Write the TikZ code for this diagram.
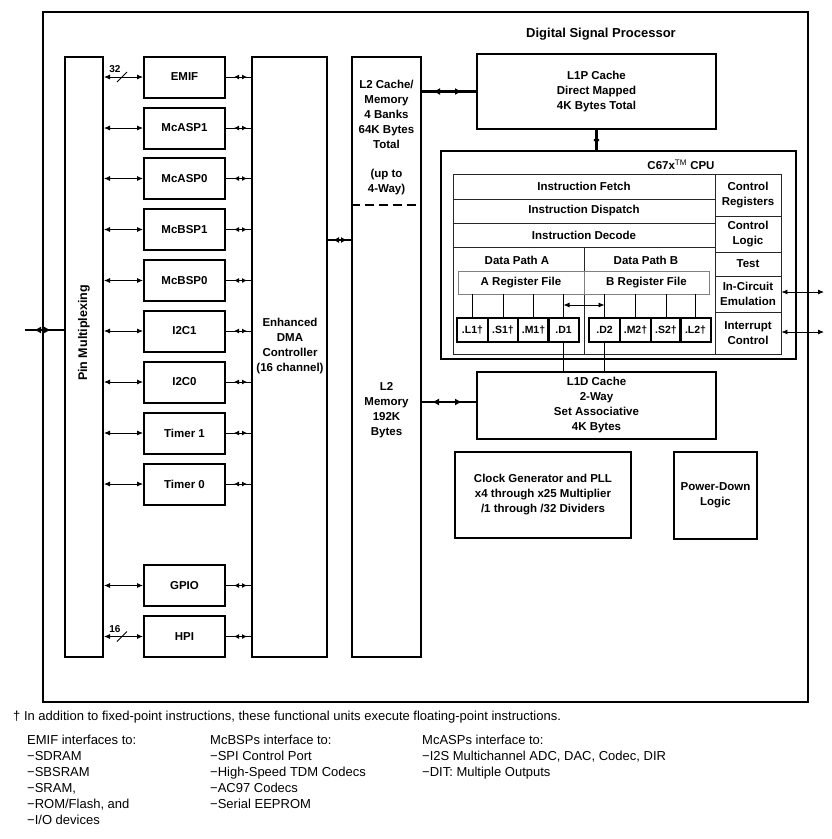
\documentclass[tikz,border=0pt]{standalone}
\usepackage{fontspec}
\setmainfont{Liberation Sans}
\usetikzlibrary{arrows.meta,decorations.markings}
\tikzset{
  blk/.style={draw, line width=2pt, inner sep=0pt, align=center, font=\bfseries\fontsize{11.5}{15}\selectfont},
  cell/.style={draw=black!85, line width=0.9pt, inner sep=0pt, align=center, font=\bfseries\fontsize{11.5}{15}\selectfont},
  regf/.style={draw=black!50, line width=0.9pt, inner sep=0pt, minimum height=23pt, font=\bfseries\fontsize{11.5}{14}\selectfont},
  fu/.style={draw, line width=2.2pt, inner sep=0pt, minimum width=30.5pt, minimum height=24pt, font=\bfseries\fontsize{10.5}{12}\selectfont},
  periph/.style={blk, minimum width=81pt, minimum height=41pt},
  lbl/.style={inner sep=0pt, align=center, font=\bfseries\fontsize{11.5}{15}\selectfont},
  sig/.style={line width=0.8pt, {Latex[length=6pt,width=5pt]}-{Latex[length=6pt,width=5pt]}},
  thinln/.style={line width=0.8pt},
  inarr/.style n args={4}{line width=#1, postaction={decorate}, decoration={markings,
     mark=at position #2 with {\arrowreversed{Latex[length=#4,width=#4]}},
     mark=at position -#3 with {\arrow{Latex[length=#4,width=#4]}}}},
  note/.style={inner sep=0pt, align=left, font=\fontsize{13}{16}\selectfont},
}
\begin{document}
\begin{tikzpicture}[x=1pt,y=-1pt]
\useasboundingbox (0,0) rectangle (831,839);
% outer DSP box
\node[blk, minimum width=765pt, minimum height=690pt] (dsp) at (425.5,357) {};
\node[inner sep=0pt, font=\bfseries\fontsize{13}{15}\selectfont] (dsptitle) at (601,34) {Digital Signal Processor};
% columns
\node[blk, minimum width=38pt, minimum height=600pt] (pinmux) at (84,357) {};
\node[lbl, rotate=90, font=\bfseries\fontsize{12.5}{15}\selectfont] (pinmuxlbl) at (84,333) {Pin Multiplexing};
\node[blk, minimum width=75pt, minimum height=600pt] (dma) at (289.5,357) {};
\node[lbl] (dmalbl) at (290,346.5) {Enhanced\\DMA\\Controller\\(16 channel)};
\node[blk, minimum width=69pt, minimum height=600pt] (l2) at (386.5,357) {};
\node[lbl] (l2top) at (386.5,138) {L2 Cache/\\Memory\\4 Banks\\64K Bytes\\Total\\[14pt](up to\\4-Way)};
\node[lbl] (l2bot) at (386.5,410.5) {L2\\Memory\\192K\\Bytes};
\coordinate (ydash) at (0,205);
\draw[line width=2pt, dash pattern=on 9pt off 5pt] (l2.west |- ydash) -- (l2.east |- ydash);
% peripherals
\node[periph] (emif) at (184.5,77) {EMIF};
\node[periph] (mcasp1) at (184.5,128) {McASP1};
\node[periph] (mcasp0) at (184.5,178.5) {McASP0};
\node[periph] (mcbsp1) at (184.5,229.5) {McBSP1};
\node[periph] (mcbsp0) at (184.5,280.5) {McBSP0};
\node[periph] (itwoca) at (184.5,331) {I2C1};
\node[periph] (itwocb) at (184.5,382) {I2C0};
\node[periph] (timera) at (184.5,433) {Timer 1};
\node[periph] (timerb) at (184.5,484) {Timer 0};
\node[periph] (gpio) at (184.5,585.5) {GPIO};
\node[periph] (hpi) at (184.5,636.5) {HPI};
\foreach \p in {emif,mcasp1,mcasp0,mcbsp1,mcbsp0,itwoca,itwocb,timera,timerb,gpio,hpi}{
  \draw[sig] (\p.west -| pinmux.east) -- (\p.west);
  \draw[inarr={0.9pt}{8pt}{4pt}{5pt}] (\p.east) -- (\p.east -| dma.west);
}
% bus width marks
\coordinate (sa) at (122,77);
\draw[thinln] (sa) +(-5,5) -- +(5,-5);
\node[inner sep=0pt, font=\bfseries\fontsize{10}{12}\selectfont] (wa) at (115,69) {32};
\coordinate (sb) at (122,636.5);
\draw[thinln] (sb) +(-5,5) -- +(5,-5);
\node[inner sep=0pt, font=\bfseries\fontsize{10}{12}\selectfont] (wb) at (115,629) {16};
% external pin bus
\coordinate (ext) at (25,330);
\draw[inarr={2.4pt}{9pt}{13pt}{7pt}] (ext) -- (pinmux.west |- ext);
% DMA - L2
\coordinate (ydm) at (0,240);
\draw[inarr={2.4pt}{5pt}{4pt}{6pt}] (dma.east |- ydm) -- (l2.west |- ydm);
% L1P
\node[blk, minimum width=239pt, minimum height=75pt] (l1p) at (596.5,91.5) {L1P Cache\\Direct Mapped\\4K Bytes Total};
\draw[inarr={2.4pt}{11pt}{14pt}{7pt}] (l2.east |- l1p.west) -- (l1p.west);
% CPU
\node[blk, minimum width=355pt, minimum height=208pt] (cpu) at (618.5,255) {};
\draw[inarr={2.4pt}{5pt}{5pt}{6pt}] (l1p.south) -- (cpu.north -| l1p.south);
\node[inner sep=0pt, font=\bfseries\fontsize{11.5}{14}\selectfont] (cputitle) at (681,165) {C67x\textsuperscript{\mdseries TM} CPU};
\node[cell, minimum width=262pt, minimum height=25pt] (ifetch) at (584,186.5) {Instruction Fetch};
\node[cell, minimum width=262pt, minimum height=24pt] (idisp) at (584,211) {Instruction Dispatch};
\node[cell, minimum width=262pt, minimum height=24pt] (idec) at (584,235) {Instruction Decode};
\node[cell, minimum width=131pt, minimum height=107pt] (dpa) at (518.5,300.5) {};
\node[cell, minimum width=131pt, minimum height=107pt] (dpb) at (649.5,300.5) {};
\node[lbl] (dpalbl) at (517,260) {Data Path A};
\node[lbl] (dpblbl) at (646,260) {Data Path B};
\node[cell, minimum width=66pt, minimum height=42pt] (creg) at (748,195) {Control\\Registers};
\node[cell, minimum width=66pt, minimum height=36pt] (clog) at (748,234) {Control\\Logic};
\node[cell, minimum width=66pt, minimum height=24pt] (ctest) at (748,264) {Test};
\node[cell, minimum width=66pt, minimum height=36pt] (ice) at (748,294) {In-Circuit\\Emulation};
\node[cell, minimum width=66pt, minimum height=42pt] (intc) at (748,333) {Interrupt\\Control};
\node[regf, minimum width=126pt] (rega) at (521,282.5) {A Register File};
\node[regf, minimum width=125pt] (regb) at (646.5,282.5) {B Register File};
\node[fu] (ula) at (472.5,330) {.L1†};
\node[fu] (usa) at (503,330) {.S1†};
\node[fu] (uma) at (533.5,330) {.M1†};
\node[fu] (uda) at (563.5,330) {.D1};
\node[fu] (udb) at (604.5,330) {.D2};
\node[fu] (umb) at (635.5,330) {.M2†};
\node[fu] (usb) at (666,330) {.S2†};
\node[fu] (ulb) at (695.5,330) {.L2†};
\foreach \u in {ula,usa,uma,uda}{\draw[thinln] (\u.north) -- (\u.north |- rega.south);}
\foreach \u in {udb,umb,usb,ulb}{\draw[thinln] (\u.north) -- (\u.north |- regb.south);}
\coordinate (ycross) at (0,305);
\draw[sig] (uda.north |- ycross) -- (udb.north |- ycross);
\coordinate (iceout) at (824,292);
\coordinate (intout) at (824,332);
\draw[sig] (ice.east |- iceout) -- (iceout);
\draw[sig] (intc.east |- intout) -- (intout);
% L1D
\node[blk, minimum width=239pt, minimum height=67pt] (l1d) at (596.5,405.5) {L1D Cache\\2-Way\\Set Associative\\4K Bytes};
\draw[thinln] (uda.south) -- (uda.south |- l1d.north);
\draw[thinln] (udb.south) -- (udb.south |- l1d.north);
\coordinate (yl1d) at (0,402);
\draw[inarr={2.4pt}{10pt}{14pt}{7pt}] (l2.east |- yl1d) -- (l1d.west |- yl1d);
% clock, power
\node[blk, minimum width=176pt, minimum height=86pt] (clk) at (543,495) {Clock Generator and PLL\\x4 through x25 Multiplier\\/1 through /32 Dividers};
\node[blk, minimum width=83pt, minimum height=87pt] (pdl) at (715.5,495.5) {Power-Down\\Logic};
% notes
\node[note, anchor=west] (foot) at (13,717) {† In addition to fixed-point instructions, these functional units execute floating-point instructions.};
\node[note, anchor=north west] (emifnote) at (27,735) {EMIF interfaces to:\\−SDRAM\\−SBSRAM\\−SRAM,\\−ROM/Flash, and\\−I/O devices};
\node[note, anchor=north west] (mcbspnote) at (210,735) {McBSPs interface to:\\−SPI Control Port\\−High-Speed TDM Codecs\\−AC97 Codecs\\−Serial EEPROM};
\node[note, anchor=north west] (mcaspnote) at (422,735) {McASPs interface to:\\−I2S Multichannel ADC, DAC, Codec, DIR\\−DIT: Multiple Outputs};
\end{tikzpicture}
\end{document}
